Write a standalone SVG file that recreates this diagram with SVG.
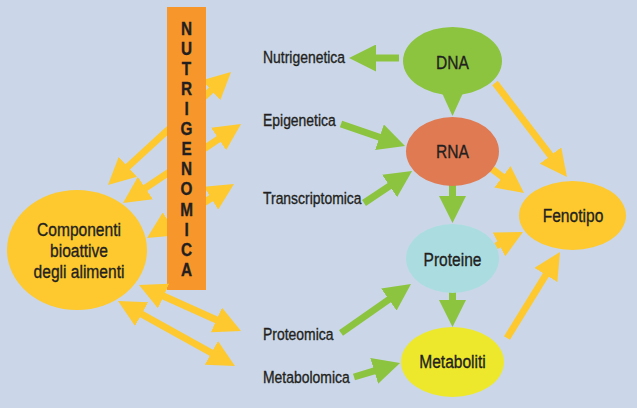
<svg xmlns="http://www.w3.org/2000/svg" width="637" height="408" viewBox="0 0 637 408">
<defs>
<style>
.t{font-family:"Liberation Sans",Arial,sans-serif;fill:#231f20;stroke:#231f20;stroke-width:0.35}
.lbl{font-size:17px}
.nl{font-size:19px;text-anchor:middle}
.bar{font-size:18px;font-weight:bold;text-anchor:middle}
.g{stroke:#8cc43f;stroke-width:7;fill:none}
.y{stroke:#fdc92e;stroke-width:7;fill:none}
</style>
<marker id="hg" markerUnits="userSpaceOnUse" markerWidth="27" markerHeight="27" viewBox="0 0 27 27" refX="7" refY="13.5" orient="auto-start-reverse"><path d="M0,0 L27,13.5 L0,27 z" fill="#8cc43f"/></marker>
<marker id="hy" markerUnits="userSpaceOnUse" markerWidth="27" markerHeight="27" viewBox="0 0 27 27" refX="7" refY="13.5" orient="auto-start-reverse"><path d="M0,0 L27,13.5 L0,27 z" fill="#fdc92e"/></marker>
</defs>
<rect x="0" y="0" width="637" height="408" fill="#cbd7e8"/>

<g id="connectors-back">
<line class="y" x1="122.7" y1="171.5" x2="216.3" y2="85.5" marker-start="url(#hy)" marker-end="url(#hy)"/>
<line class="y" x1="139.6" y1="191.9" x2="224.4" y2="135.1" marker-start="url(#hy)" marker-end="url(#hy)"/>
<line class="y" x1="164.0" y1="227.5" x2="217.0" y2="194.5" marker-start="url(#hy)" marker-end="url(#hy)"/>
</g>

<g id="nutrigenomica">
<rect x="167" y="7" width="39" height="283" fill="#f7962b"/>
<g transform="translate(186.5,0) scale(0.85,1)">
<text class="t bar" x="0" y="35">N</text>
<text class="t bar" x="0" y="55">U</text>
<text class="t bar" x="0" y="75">T</text>
<text class="t bar" x="0" y="95">R</text>
<text class="t bar" x="0" y="115">I</text>
<text class="t bar" x="0" y="135">G</text>
<text class="t bar" x="0" y="155">E</text>
<text class="t bar" x="0" y="175">N</text>
<text class="t bar" x="0" y="195">O</text>
<text class="t bar" x="0" y="216">M</text>
<text class="t bar" x="0" y="236">I</text>
<text class="t bar" x="0" y="256">C</text>
<text class="t bar" x="0" y="276">A</text>
</g>
</g>

<g id="componenti">
<ellipse cx="77" cy="250" rx="70" ry="60" fill="#fdc92e"/>
<g transform="translate(79,0) scale(0.82,1)">
<text class="t nl" x="0" y="236">Componenti</text>
<text class="t nl" x="0" y="257">bioattive</text>
<text class="t nl" x="0" y="278">degli alimenti</text>
</g>
</g>

<g id="connectors">
<line class="y" x1="157.2" y1="293.2" x2="222.8" y2="322.8" marker-start="url(#hy)" marker-end="url(#hy)"/>
<line class="y" x1="135.5" y1="310.7" x2="217.5" y2="356.3" marker-start="url(#hy)" marker-end="url(#hy)"/>
<line class="y" x1="495" y1="83" x2="554.8" y2="161.1" marker-end="url(#hy)"/>
<line class="y" x1="492" y1="169" x2="508" y2="181" marker-end="url(#hy)"/>
<line class="y" x1="496" y1="246" x2="505.2" y2="241.2" marker-end="url(#hy)"/>
<line class="y" x1="507" y1="338" x2="549.5" y2="269" marker-end="url(#hy)"/>
<line class="g" x1="399" y1="58" x2="369" y2="58" marker-end="url(#hg)"/>
<line class="g" x1="341" y1="124" x2="386.1" y2="139.5" marker-end="url(#hg)"/>
<line class="g" x1="364" y1="203" x2="395.4" y2="182.1" marker-end="url(#hg)"/>
<line class="g" x1="452.5" y1="184" x2="452.5" y2="203" marker-end="url(#hg)"/>
<line class="g" x1="452.5" y1="290" x2="452.5" y2="307" marker-end="url(#hg)"/>
<line class="g" x1="341" y1="333" x2="394.6" y2="295.5" marker-end="url(#hg)"/>
<line class="g" x1="354" y1="377" x2="380.9" y2="368.8" marker-end="url(#hg)"/>
</g>

<g id="dna">
<ellipse cx="452.5" cy="61" rx="49.5" ry="34" fill="#8cc43f"/>
<path d="M442,93 L463,93 L452.5,116 z" fill="#8cc43f"/>
<text class="t nl" transform="translate(452.5,69) scale(0.82,1)">DNA</text>
</g>
<g id="rna">
<ellipse cx="452.5" cy="151.5" rx="46.5" ry="34.5" fill="#e07a52"/>
<text class="t nl" transform="translate(452.5,158) scale(0.82,1)">RNA</text>
</g>
<g id="proteine">
<ellipse cx="452.5" cy="258.5" rx="46.5" ry="34.5" fill="#abdde0"/>
<text class="t nl" transform="translate(452.5,266) scale(0.82,1)">Proteine</text>
</g>
<g id="metaboliti">
<ellipse cx="452.5" cy="362" rx="51.5" ry="35" fill="#ede82b"/>
<text class="t nl" transform="translate(452.5,368) scale(0.82,1)">Metaboliti</text>
</g>
<g id="fenotipo">
<ellipse cx="572.5" cy="215.5" rx="53.5" ry="34.5" fill="#fdc92e"/>
<text class="t nl" transform="translate(573,222) scale(0.82,1)">Fenotipo</text>
</g>

<g id="labels">
<text class="t lbl" transform="translate(263,63) scale(0.82,1)">Nutrigenetica</text>
<text class="t lbl" transform="translate(263,126) scale(0.82,1)">Epigenetica</text>
<text class="t lbl" transform="translate(263,204) scale(0.82,1)">Transcriptomica</text>
<text class="t lbl" transform="translate(263,340) scale(0.82,1)">Proteomica</text>
<text class="t lbl" transform="translate(263,383) scale(0.82,1)">Metabolomica</text>
</g>
</svg>
